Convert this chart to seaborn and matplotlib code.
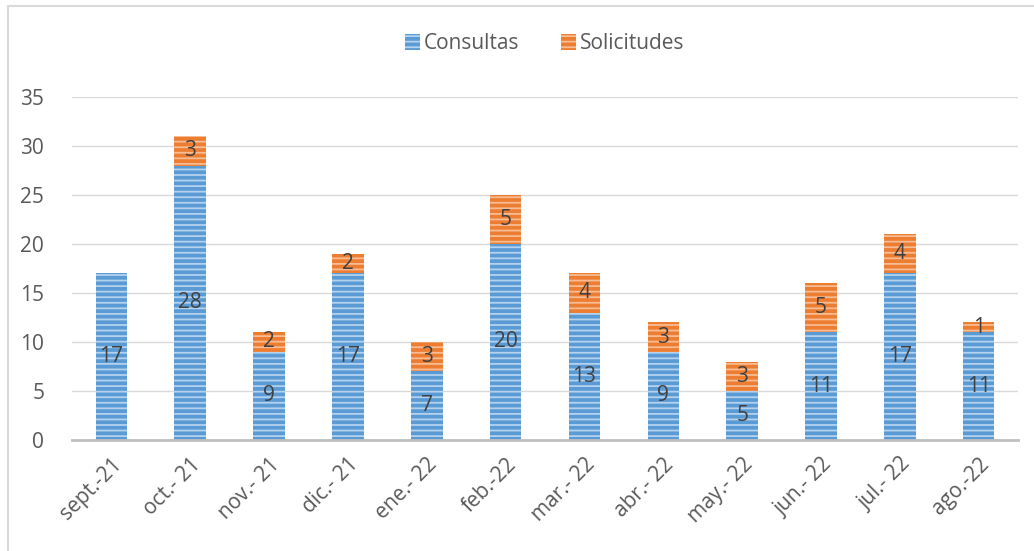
import matplotlib
matplotlib.use("Agg")
import matplotlib.pyplot as plt
import seaborn as sns
import pandas as pd
from matplotlib.patches import Rectangle

months = ['sept.-21', 'oct.- 21', 'nov.- 21', 'dic.- 21', 'ene.- 22', 'feb.-22',
          'mar.- 22', 'abr.- 22', 'may.- 22', 'jun.- 22', 'jul.- 22', 'ago.-22']
consultas = [17, 28, 9, 17, 7, 20, 13, 9, 5, 11, 17, 11]
solicitudes = [0, 3, 2, 2, 3, 5, 4, 3, 3, 5, 4, 1]

df = pd.DataFrame({'mes': months, 'Consultas': consultas, 'Solicitudes': solicitudes})

sns.set_style('white')
plt.rcParams['font.family'] = ['Open Sans', 'DejaVu Sans']
plt.rcParams['hatch.linewidth'] = 1.3

fig = plt.figure(figsize=(10.34, 5.51), dpi=100)
ax = fig.add_axes([0.0696, 0.2015, 0.915, 0.6225])

blue = '#5b9bd5'
orange = '#ed7d31'
bar_w = 0.40

sns.barplot(data=df, x='mes', y='Consultas', color=blue, width=bar_w,
            saturation=1, ax=ax, label='Consultas',
            hatch='---', edgecolor='#b4d2ee', linewidth=0)
sns.barplot(data=df, x='mes', y='Solicitudes', color=orange, width=bar_w,
            saturation=1, ax=ax, label='Solicitudes', bottom=df['Consultas'],
            hatch='---', edgecolor='#f6bc94', linewidth=0)

for cont in ax.containers:
    labels = [str(int(v)) if v > 0 else '' for v in cont.datavalues]
    ax.bar_label(cont, labels=labels, label_type='center', fontsize=15, color='#404040')

ax.set_ylim(0, 35)
ax.set_yticks(range(0, 36, 5))
ax.set_xlim(-0.5, len(months) - 0.5)
ax.yaxis.grid(True, color='#d9d9d9', linewidth=1)
ax.set_axisbelow(True)
for s in ['top', 'right', 'left']:
    ax.spines[s].set_visible(False)
ax.spines['bottom'].set_color('#bfbfbf')
ax.spines['bottom'].set_linewidth(2)
ax.set_xlabel('')
ax.set_ylabel('')
ax.tick_params(axis='both', length=0, labelsize=15, colors='#595959')
ax.tick_params(axis='y', pad=20)
ax.tick_params(axis='x', pad=10)
plt.setp(ax.get_xticklabels(), rotation=45, ha='right', rotation_mode='anchor')

ax.legend(loc='center', bbox_to_anchor=(0.5, 1.155), ncol=2, frameon=False,
          fontsize=15, handlelength=0.7, handleheight=0.8, columnspacing=2.0,
          handletextpad=0.2, labelcolor='#595959')

fig.patches.append(Rectangle((0.008, -0.1), 1.2, 1.089, transform=fig.transFigure,
                             fill=False, edgecolor='#d9d9d9', linewidth=1.5))

fig.savefig('out.png', dpi=100)
plt.close()
